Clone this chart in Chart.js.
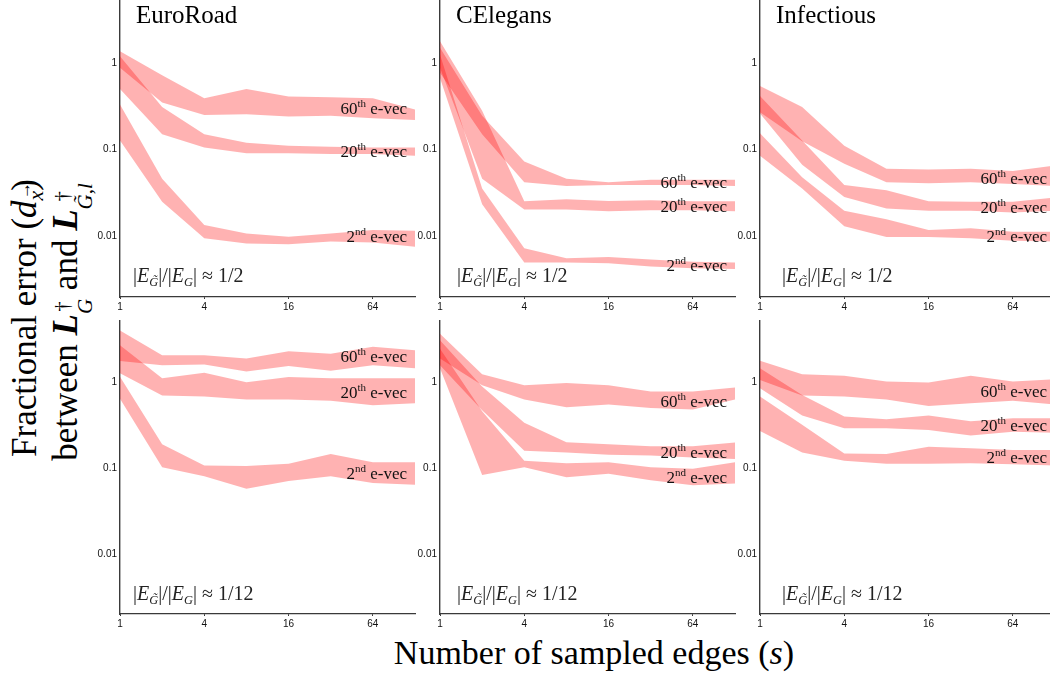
<!DOCTYPE html>
<html>
<head>
<meta charset="utf-8">
<script src="https://cdn.jsdelivr.net/npm/chart.js@4.4.0/dist/chart.umd.min.js"></script>
<style>
    body { margin: 0; width: 1050px; height: 677px; overflow: hidden; background: #fff; position: relative; font-family: "Liberation Serif", serif; }
    canvas { position: absolute; }
    .txt { position: absolute; white-space: nowrap; color: #000; line-height: 1; }
    .title { font-size: 25px; }
    .ratio { font-size: 20px; color: #222; }
    .ratio sub { font-size: 0.62em; vertical-align: -0.3em; line-height: 0; }
    .ytitle { position: absolute; font-size: 35px; width: 520px; height: 40px; line-height: 40px; text-align: center; transform: rotate(-90deg); white-space: nowrap; }
    .ytitle sub { font-size: 0.62em; vertical-align: -0.3em; line-height: 0; }
    .ss { display: inline-flex; flex-direction: column; font-size: 0.6em; line-height: 1.1; vertical-align: 0.4em; }
    .vec { position: relative; display: inline-block; }
    .vec::after { content: '\2192'; position: absolute; left: 0.05em; top: -0.62em; font-size: 0.8em; font-style: normal; }
    .xtitle { font-size: 34px; text-align: center; width: 600px; }
</style>
</head>
<body>
<div class="ytitle" style="left:-235px; top:298px;">Fractional error (<i>d</i><sub><span class="vec"><i>x</i></span></sub>)</div>
<div class="ytitle" style="left:-194px; top:302px;">between <b><i>L</i></b><span class="ss"><span>†</span><span><i>G</i></span></span> and <b><i>L</i></b><span class="ss"><span>†</span><span><i>G̃</i>,<i>l</i></span></span></div>
<div class="txt xtitle" style="left:294px; top:636px;">Number of sampled edges (<i>s</i>)</div>
<script>
var sValues = [1, 2, 4, 8, 16, 32, 64, 128];
var xTickValues = [1, 4, 16, 64];
var yTickValues = [0.01, 0.1, 1];
var networks = ['EuroRoad', 'CElegans', 'Infectious'];
var ratios = ['1/2', '1/12'];
var evecNums = ['60', '20', '2'];
var evecSups = ['th', 'th', 'nd'];

// EuroRoad, ratio 1/2
var euroHalf60Hi = [1.36, 0.72, 0.39, 0.50, 0.41, 0.40, 0.39, 0.29];
var euroHalf60Lo = [0.88, 0.35, 0.25, 0.256, 0.24, 0.245, 0.23, 0.22];
var euroHalf20Hi = [1.19, 0.31, 0.15, 0.12, 0.111, 0.108, 0.106, 0.106];
var euroHalf20Lo = [0.50, 0.15, 0.106, 0.091, 0.091, 0.089, 0.089, 0.085];
var euroHalf2Hi = [0.33, 0.046, 0.0135, 0.0108, 0.0099, 0.0108, 0.0118, 0.0116];
var euroHalf2Lo = [0.127, 0.025, 0.0095, 0.0083, 0.0081, 0.0087, 0.0085, 0.0076];

// CElegans, ratio 1/2
var celeHalf60Hi = [1.49, 0.245, 0.073, 0.046, 0.042, 0.045, 0.045, 0.045];
var celeHalf60Lo = [0.77, 0.15, 0.042, 0.038, 0.039, 0.039, 0.039, 0.038];
var celeHalf20Hi = [1.77, 0.28, 0.0254, 0.0268, 0.0256, 0.026, 0.0254, 0.0254];
var celeHalf20Lo = [0.88, 0.046, 0.0204, 0.0204, 0.0195, 0.020, 0.020, 0.0195];
var celeHalf2Hi = [1.25, 0.0355, 0.0073, 0.0056, 0.0058, 0.0054, 0.0051, 0.0050];
var celeHalf2Lo = [0.67, 0.0235, 0.0050, 0.0050, 0.0049, 0.0045, 0.0043, 0.0042];

// Infectious, ratio 1/2
var infHalf60Hi = [0.54, 0.31, 0.111, 0.060, 0.059, 0.060, 0.0565, 0.0656];
var infHalf60Lo = [0.27, 0.125, 0.0686, 0.042, 0.041, 0.042, 0.040, 0.038];
var infHalf20Hi = [0.415, 0.127, 0.039, 0.034, 0.0254, 0.025, 0.025, 0.028];
var infHalf20Lo = [0.26, 0.067, 0.0285, 0.021, 0.0197, 0.0197, 0.0188, 0.0197];
var infHalf2Hi = [0.154, 0.048, 0.0197, 0.0157, 0.0118, 0.0124, 0.0113, 0.0113];
var infHalf2Lo = [0.085, 0.0355, 0.0131, 0.0098, 0.0098, 0.0095, 0.0089, 0.0087];

// EuroRoad, ratio 1/12
var euroTwelfth60Hi = [4.0, 2.06, 2.06, 1.89, 2.3, 2.14, 2.58, 2.36];
var euroTwelfth60Lo = [1.76, 1.58, 1.61, 1.33, 1.54, 1.36, 1.58, 1.45];
var euroTwelfth20Hi = [2.69, 1.11, 1.29, 1.0, 1.15, 1.11, 1.11, 1.11];
var euroTwelfth20Lo = [1.27, 0.70, 0.68, 0.63, 0.63, 0.61, 0.54, 0.57];
var euroTwelfth2Hi = [1.16, 0.19, 0.107, 0.106, 0.112, 0.146, 0.117, 0.117];
var euroTwelfth2Lo = [0.64, 0.102, 0.0805, 0.0575, 0.0705, 0.0805, 0.067, 0.064];

// CElegans, ratio 1/12
var celeTwelfth60Hi = [3.67, 1.24, 0.92, 0.98, 0.92, 0.78, 0.78, 0.87];
var celeTwelfth60Lo = [1.89, 0.92, 0.63, 0.51, 0.55, 0.50, 0.48, 0.63];
var celeTwelfth20Hi = [3.07, 0.89, 0.337, 0.20, 0.19, 0.18, 0.18, 0.198];
var celeTwelfth20Lo = [1.58, 0.47, 0.159, 0.152, 0.143, 0.14, 0.133, 0.128];
var celeTwelfth2Hi = [2.46, 0.46, 0.122, 0.114, 0.117, 0.102, 0.098, 0.117];
var celeTwelfth2Lo = [1.45, 0.083, 0.102, 0.078, 0.086, 0.072, 0.063, 0.066];

// Infectious, ratio 1/12
var infTwelfth60Hi = [1.78, 1.24, 1.19, 1.02, 0.99, 1.19, 1.02, 1.08];
var infTwelfth60Lo = [1.06, 0.70, 0.68, 0.63, 0.53, 0.57, 0.61, 0.55];
var infTwelfth20Hi = [1.45, 0.71, 0.40, 0.37, 0.41, 0.35, 0.38, 0.38];
var infTwelfth20Lo = [0.85, 0.41, 0.29, 0.29, 0.277, 0.24, 0.265, 0.258];
var infTwelfth2Hi = [0.68, 0.32, 0.148, 0.146, 0.177, 0.17, 0.162, 0.162];
var infTwelfth2Lo = [0.27, 0.152, 0.122, 0.112, 0.112, 0.114, 0.111, 0.107];

var panelBands = [
    [
        [[euroHalf60Hi, euroHalf60Lo], [euroHalf20Hi, euroHalf20Lo], [euroHalf2Hi, euroHalf2Lo]],
        [[celeHalf60Hi, celeHalf60Lo], [celeHalf20Hi, celeHalf20Lo], [celeHalf2Hi, celeHalf2Lo]],
        [[infHalf60Hi, infHalf60Lo], [infHalf20Hi, infHalf20Lo], [infHalf2Hi, infHalf2Lo]]
    ],
    [
        [[euroTwelfth60Hi, euroTwelfth60Lo], [euroTwelfth20Hi, euroTwelfth20Lo], [euroTwelfth2Hi, euroTwelfth2Lo]],
        [[celeTwelfth60Hi, celeTwelfth60Lo], [celeTwelfth20Hi, celeTwelfth20Lo], [celeTwelfth2Hi, celeTwelfth2Lo]],
        [[infTwelfth60Hi, infTwelfth60Lo], [infTwelfth20Hi, infTwelfth20Lo], [infTwelfth2Hi, infTwelfth2Lo]]
    ]
];

// layout
var COL_X = [120, 440, 760];
var ROW_Y = [0, 320];
var PLOT_W = 295;
var PLOT_H = [297, 294];
var Y_AXIS_W = 40;
var X_AXIS_H = 22;
var PAD_R = 10;
var BAND_FILL = 'rgba(255, 0, 0, 0.3)';
var AXIS_COLOR = '#3a3a3a';
var RATIO_X = [13, 17, 22];
var RATIO_Y = [265, 583];
var LABEL_AT = 64;

var bandLabelPlugin = {
    id: 'bandLabels',
    afterDatasetsDraw: function (chart, args, opts) {
        var ctx = chart.ctx;
        var xs = chart.scales.x, ys = chart.scales.y;
        var k = sValues.indexOf(LABEL_AT);
        var right = xs.getPixelForValue(sValues[sValues.length - 1]) - 8;
        ctx.save();
        ctx.fillStyle = '#111';
        ctx.textBaseline = 'alphabetic';
        ctx.textAlign = 'left';
        opts.bands.forEach(function (b, j) {
            var y = ys.getPixelForValue(Math.sqrt(b[0][k] * b[1][k])) + 6;
            var num = evecNums[j], sup = evecSups[j], tail = ' e-vec';
            ctx.font = '17px "Liberation Serif"';
            var wNum = ctx.measureText(num).width;
            var wTail = ctx.measureText(tail).width;
            ctx.font = '11px "Liberation Serif"';
            var wSup = ctx.measureText(sup).width;
            var x = right - wNum - wSup - wTail;
            ctx.font = '17px "Liberation Serif"';
            ctx.fillText(num, x, y);
            ctx.font = '11px "Liberation Serif"';
            ctx.fillText(sup, x + wNum, y - 7);
            ctx.font = '17px "Liberation Serif"';
            ctx.fillText(tail, x + wNum + wSup, y);
        });
        ctx.restore();
    }
};

function makePanel(row, col) {
    var bands = panelBands[row][col];
    var canvas = document.createElement('canvas');
    canvas.width = Y_AXIS_W + PLOT_W + PAD_R;
    canvas.height = PLOT_H[row] + X_AXIS_H;
    canvas.style.left = (COL_X[col] - Y_AXIS_W) + 'px';
    canvas.style.top = ROW_Y[row] + 'px';
    document.body.appendChild(canvas);

    var datasets = [];
    bands.forEach(function (b) {
        datasets.push({
            data: sValues.map(function (s, i) { return {x: s, y: b[0][i]}; }),
            fill: '+1', backgroundColor: BAND_FILL,
            borderColor: 'rgba(0,0,0,0)', borderWidth: 0, pointRadius: 0, tension: 0
        });
        datasets.push({
            data: sValues.map(function (s, i) { return {x: s, y: b[1][i]}; }),
            fill: false,
            borderColor: 'rgba(0,0,0,0)', borderWidth: 0, pointRadius: 0, tension: 0
        });
    });

    new Chart(canvas, {
        type: 'line',
        data: {datasets: datasets},
        options: {
            responsive: false,
            animation: false,
            layout: {padding: {left: 0, right: PAD_R, top: 0, bottom: 0}},
            plugins: {
                legend: {display: false},
                tooltip: {enabled: false},
                bandLabels: {bands: bands}
            },
            scales: {
                x: {
                    type: 'logarithmic', min: 1, max: 128,
                    afterFit: function (s) { s.height = X_AXIS_H; s.paddingLeft = 0; s.paddingRight = 0; },
                    afterBuildTicks: function (s) { s.ticks = xTickValues.map(function (v) { return {value: v}; }); },
                    grid: {display: true, drawOnChartArea: false, tickLength: 2, color: AXIS_COLOR},
                    border: {color: AXIS_COLOR, width: 1.2},
                    ticks: {
                        callback: function (v) { return String(v); },
                        font: {family: 'Liberation Sans', size: 10}, color: '#111',
                        padding: 2, maxRotation: 0, autoSkip: false
                    }
                },
                y: {
                    type: 'logarithmic', min: 0.002, max: 5.3,
                    afterFit: function (s) { s.width = Y_AXIS_W; s.paddingTop = 0; s.paddingBottom = 0; },
                    afterBuildTicks: function (s) { s.ticks = yTickValues.map(function (v) { return {value: v}; }); },
                    grid: {display: false, drawTicks: false, tickLength: 0},
                    border: {color: AXIS_COLOR, width: 1.4},
                    ticks: {
                        callback: function (v) { return String(v); },
                        font: {family: 'Liberation Sans', size: 10}, color: '#111',
                        padding: 3, autoSkip: false
                    }
                }
            }
        },
        plugins: [bandLabelPlugin]
    });

    if (row === 0) {
        var t = document.createElement('div');
        t.className = 'txt title';
        t.style.left = (COL_X[col] + 16) + 'px';
        t.style.top = '2px';
        t.textContent = networks[col];
        document.body.appendChild(t);
    }
    var r = document.createElement('div');
    r.className = 'txt ratio';
    r.style.left = (COL_X[col] + RATIO_X[col]) + 'px';
    r.style.top = RATIO_Y[row] + 'px';
    r.innerHTML = '|<i>E</i><sub><i>G\u0303</i></sub>|/|<i>E</i><sub><i>G</i></sub>| \u2248 ' + ratios[row];
    document.body.appendChild(r);
}

for (var row = 0; row < 2; row++) {
    for (var col = 0; col < 3; col++) {
        makePanel(row, col);
    }
}
</script>
</body>
</html>
